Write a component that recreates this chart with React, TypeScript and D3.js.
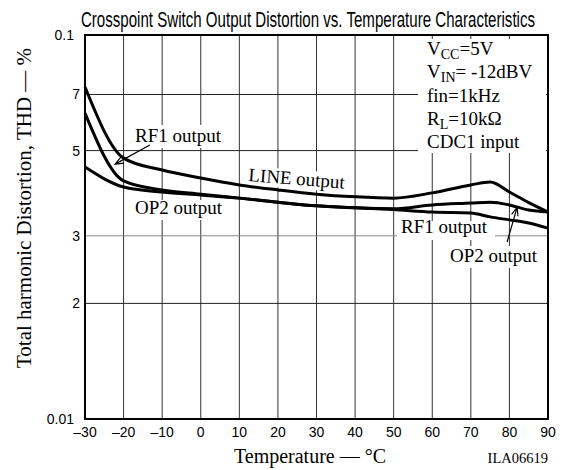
import React, { useLayoutEffect, useRef, useState } from "react";
import * as d3 from "d3";

// ---- data (THD in %) ----
const temperatures = [-30, -20, -10, 0, 10, 20, 30, 40, 50, 60, 70, 75, 80, 85, 90];
const lineOutput = [0.0732, 0.0478, 0.0445, 0.0424, 0.0407, 0.0395, 0.0385, 0.0379, 0.0376, 0.0388, 0.0407, 0.0414, 0.039, 0.0366, 0.0346];
const rf1Output = [0.0626, 0.0417, 0.0395, 0.0385, 0.0376, 0.0367, 0.0359, 0.0355, 0.0351, 0.0346, 0.0344, 0.0336, 0.033, 0.0324, 0.0314];
const op2Output = [0.0453, 0.0402, 0.039, 0.0383, 0.0376, 0.0367, 0.0359, 0.0355, 0.0353, 0.0361, 0.0365, 0.0367, 0.0361, 0.035, 0.0346];

const xTicks = [-30, -20, -10, 0, 10, 20, 30, 40, 50, 60, 70, 80, 90];
const xTickLabels = ["–30", "–20", "–10", "0", "10", "20", "30", "40", "50", "60", "70", "80", "90"];
const yTicks = [0.01, 0.02, 0.03, 0.05, 0.07, 0.1];
const yTickLabels = ["0.01", "2", "3", "5", "7", "0.1"];
const gridY = [0.02, 0.03, 0.05, 0.07];
const gridX = [-20, -10, 0, 10, 20, 30, 40, 50, 60, 70, 80];

const title = "Crosspoint Switch Output Distortion vs. Temperature Characteristics";
const xTitle = "Temperature — °C";
const yTitle = "Total harmonic Distortion, THD — %";
const figureId = "ILA06619";

const SERIF = "'Liberation Serif', 'Times New Roman', serif";
const SANS = "'Liberation Sans', Arial, sans-serif";

function arrowPath(x1: number, y1: number, x2: number, y2: number, len = 9, spread = 0.38) {
  const a = Math.atan2(y1 - y2, x1 - x2);
  const w1x = x2 + len * Math.cos(a + spread);
  const w1y = y2 + len * Math.sin(a + spread);
  const w2x = x2 + len * Math.cos(a - spread);
  const w2y = y2 + len * Math.sin(a - spread);
  return `M${x1},${y1}L${x2},${y2}M${w1x},${w1y}L${x2},${y2}L${w2x},${w2y}`;
}

export default function App() {
  const W = 565;
  const H = 470;
  const L = 85, R = 548, T = 35, B = 419;
  const x = d3.scaleLinear().domain([-30, 90]).range([L, R]);
  const y = d3.scaleLog().domain([0.01, 0.1]).range([B, T]);

  const titleRef = useRef<SVGTextElement>(null);
  const [titleScale, setTitleScale] = useState(0.62);
  useLayoutEffect(() => {
    const el = titleRef.current;
    if (el) {
      const len = el.getComputedTextLength();
      if (len > 0) setTitleScale(454 / len);
    }
  }, []);

  const gen = d3
    .line<number>()
    .x((_, i) => x(temperatures[i]))
    .y((d) => y(d))
    .curve(d3.curveMonotoneX);

  const series = [lineOutput, rf1Output, op2Output];

  const labelStyle = { fontFamily: SERIF, fontSize: 19, fill: "#000" } as const;

  return (
    <svg
      width={W}
      height={H}
      viewBox={`0 0 ${W} ${H}`}
      style={{ position: "absolute", left: 0, top: 0, background: "#fff" }}
    >
      <rect x={0} y={0} width={W} height={H} fill="#fff" />
      {/* title */}
      <g transform={`translate(308,27) scale(${titleScale},1)`}>
        <text ref={titleRef} x={0} y={0} textAnchor="middle" fontFamily={SANS} fontSize={22}>
          {title}
        </text>
      </g>

      {/* grid */}
      {gridX.map((t) => (
        <line key={"gx" + t} x1={x(t)} x2={x(t)} y1={T} y2={B} stroke="#333" strokeWidth={1} />
      ))}
      {gridY.map((v) => (
        <line
          key={"gy" + v}
          x1={L}
          x2={R}
          y1={y(v)}
          y2={y(v)}
          stroke={v === 0.03 ? "#888" : "#222"}
          strokeWidth={1}
        />
      ))}

      {/* white label backgrounds */}
      <rect x={418} y={39} width={128} height={114} fill="#fff" />
      <rect x={131} y={125} width={98} height={23} fill="#fff" />
      <rect x={131} y={200} width={98} height={20} fill="#fff" />
      <rect x={397} y={221} width={98} height={19} fill="#fff" />
      <rect x={446} y={246} width={100} height={22} fill="#fff" />
      <g transform="translate(248,181) rotate(4.5)">
        <rect x={-2} y={-15} width={102} height={19} fill="#fff" />
      </g>

      {/* frame */}
      <rect x={L} y={T} width={R - L} height={B - T} fill="none" stroke="#000" strokeWidth={2} />

      {/* curves */}
      {series.map((s, i) => (
        <path key={"s" + i} d={gen(s) || ""} fill="none" stroke="#000" strokeWidth={3} strokeLinejoin="round" />
      ))}

      {/* annotation arrows */}
      <path
        d={arrowPath(x(-13.2), y(0.0517), x(-22.2), y(0.0461))}
        fill="none"
        stroke="#000"
        strokeWidth={1.2}
      />
      <path
        d={arrowPath(x(79.4), y(0.0289), x(82), y(0.0356))}
        fill="none"
        stroke="#000"
        strokeWidth={1.2}
      />

      {/* curve labels */}
      <text x={135} y={142} {...labelStyle}>RF1 output</text>
      <text x={135} y={214} {...labelStyle}>OP2 output</text>
      <text x={401} y={233} {...labelStyle}>RF1 output</text>
      <text x={450} y={262} {...labelStyle}>OP2 output</text>
      <text transform="translate(248,181) rotate(4.5)" {...labelStyle}>LINE output</text>

      {/* conditions */}
      <g {...labelStyle}>
        <text x={427} y={55}>
          V<tspan fontSize={14} dy={4}>CC</tspan>
          <tspan dy={-4}>=5V</tspan>
        </text>
        <text x={427} y={78}>
          V<tspan fontSize={14} dy={4}>IN</tspan>
          <tspan dy={-4}>= -12dBV</tspan>
        </text>
        <text x={427} y={102}>fin=1kHz</text>
        <text x={427} y={125}>
          R<tspan fontSize={14} dy={4}>L</tspan>
          <tspan dy={-4}>=10kΩ</tspan>
        </text>
        <text x={427} y={148}>CDC1 input</text>
      </g>

      {/* x tick labels */}
      {xTicks.map((t, i) => (
        <text key={"xt" + t} x={x(t)} y={437} textAnchor="middle" fontFamily={SANS} fontSize={14}>
          {xTickLabels[i]}
        </text>
      ))}
      {/* y tick labels */}
      {yTicks.map((v, i) => (
        <text
          key={"yt" + v}
          x={yTickLabels[i].length > 1 ? 74 : 80}
          y={y(v) + 5}
          textAnchor="end"
          fontFamily={SANS}
          fontSize={14}
        >
          {yTickLabels[i]}
        </text>
      ))}

      {/* axis titles */}
      <text x={310} y={463} textAnchor="middle" fontFamily={SERIF} fontSize={20}>
        {xTitle}
      </text>
      <text
        transform="translate(31,208) rotate(-90)"
        textAnchor="middle"
        fontFamily={SERIF}
        fontSize={21}
      >
        {yTitle}
      </text>
      <text x={548} y={463} textAnchor="end" fontFamily={SERIF} fontSize={14.5}>
        {figureId}
      </text>
    </svg>
  );
}
